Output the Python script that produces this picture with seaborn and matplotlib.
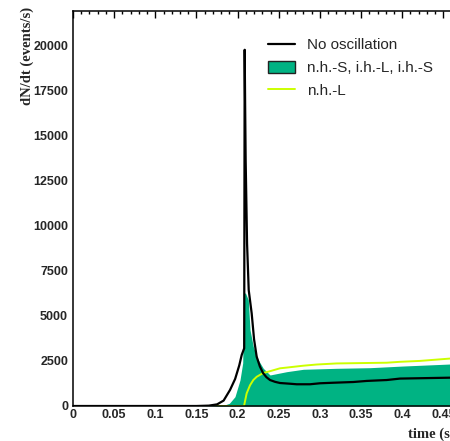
import matplotlib
matplotlib.use("Agg")
import matplotlib.pyplot as plt
import pandas as pd
import seaborn as sns
from matplotlib.lines import Line2D
from matplotlib.patches import Patch
from matplotlib.ticker import MultipleLocator

# Event rate without oscillation (time in s, rate in events/s)
no_osc_t = [0.0, 0.15, 0.165, 0.175, 0.183, 0.1908, 0.197, 0.202, 0.2050,
            0.2080, 0.2086, 0.2092, 0.2098, 0.2115, 0.2135, 0.2171, 0.2200,
            0.2232, 0.2270, 0.2309, 0.2350, 0.2394, 0.2455, 0.2515, 0.2637,
            0.2718, 0.2880, 0.3001, 0.3163, 0.3406, 0.3569, 0.3812, 0.3973,
            0.4216, 0.4581, 0.5]
no_osc_v = [0, 0, 20, 90, 300, 890, 1500, 2250, 2830,
            3200, 19750, 16500, 13600, 9000, 6430, 5140, 3700,
            2730, 2200, 1830, 1600, 1440, 1340, 1275, 1235,
            1205, 1205, 1260, 1290, 1330, 1390, 1440, 1520,
            1540, 1570, 1590]

# Event rate for n.h.-S, i.h.-L, i.h.-S
osc_t = [0.0, 0.15, 0.17, 0.18, 0.185, 0.19, 0.1968, 0.2029, 0.2062, 0.2069,
         0.2081, 0.2096, 0.2130, 0.2151, 0.2191, 0.2252, 0.2312, 0.2394,
         0.2597, 0.2798, 0.3204, 0.3609, 0.4013, 0.4581, 0.5]
osc_v = [0, 0, 15, 40, 70, 150, 515, 1441, 2383, 4213,
         6260, 6260, 5875, 4213, 3287, 2550, 2090, 1720,
         1903, 2035, 2090, 2124, 2217, 2328, 2380]

# Event rate for n.h.-L
nhl_t = [0.0, 0.2078, 0.2110, 0.2151, 0.2191, 0.2232, 0.2312, 0.2394, 0.2515,
         0.2597, 0.2798, 0.2961, 0.3204, 0.3812, 0.3973, 0.4216, 0.4581, 0.5]
nhl_v = [0, 0, 700, 1150, 1441, 1620, 1830, 1930, 2090,
         2130, 2234, 2300, 2360, 2400, 2450, 2500, 2630, 2720]

labels = ["No oscillation", "n.h.-S, i.h.-L, i.h.-S", "n.h.-L"]

green = "#00B383"
yellow = "#CCFF00"

sns.set_style("white")
plt.rcParams["font.family"] = ["Liberation Sans", "DejaVu Sans"]

W, H = 450, 441
fig = plt.figure(figsize=(W / 100, H / 100), dpi=100)
ax = fig.add_axes([73 / W, 35 / H, 411.5 / W, 395 / H])

osc = pd.DataFrame({"t": osc_t, "v": osc_v})
ax.fill_between(osc["t"], 0, osc["v"], color=green, lw=0, zorder=1)

nhl = pd.DataFrame({"t": nhl_t, "v": nhl_v})
sns.lineplot(data=nhl, x="t", y="v", ax=ax, color=yellow, lw=1.4,
             sort=False, estimator=None, zorder=2)

nos = pd.DataFrame({"t": no_osc_t, "v": no_osc_v})
sns.lineplot(data=nos, x="t", y="v", ax=ax, color="black", lw=1.6,
             sort=False, estimator=None, zorder=3)

ax.set_xlim(0, 0.5)
ax.set_ylim(0, 21900)
ax.set_xlabel("")
ax.set_ylabel("")

ax.xaxis.set_major_locator(MultipleLocator(0.05))
ax.xaxis.set_minor_locator(MultipleLocator(0.01))
ax.yaxis.set_major_locator(MultipleLocator(2500))
ax.yaxis.set_minor_locator(MultipleLocator(500))
ax.set_xticks([i * 0.05 for i in range(10)])
ax.set_xticklabels(["0", "0.05", "0.1", "0.15", "0.2", "0.25", "0.3", "0.35",
                    "0.4", "0.45"])
ax.set_yticks([i * 2500 for i in range(9)])
ax.set_yticklabels([str(i * 2500) for i in range(9)])

ax.tick_params(which="both", direction="in", top=True, right=True,
               width=1.0, color="black")
ax.tick_params(which="major", length=5)
ax.tick_params(which="minor", length=2.5)
ax.tick_params(axis="x", pad=2.5)
ax.tick_params(axis="y", pad=3.5)
for lab in ax.get_xticklabels() + ax.get_yticklabels():
    lab.set_fontweight("bold")
    lab.set_fontsize(9)
for s in ax.spines.values():
    s.set_linewidth(1.1)
    s.set_color("black")

serif = ["Liberation Serif", "DejaVu Serif"]
fig.text(27 / W, 1 - 7 / H, "dN/dt (events/s)", rotation=90, ha="center",
         va="top", family=serif, fontweight="bold", fontsize=10.5)
fig.text(455 / W, 1 - 437.5 / H, "time (s)", ha="right", va="baseline",
         family=serif, fontweight="bold", fontsize=10.5)

handles = [
    Line2D([], [], color="black", lw=1.6),
    Patch(facecolor=green, edgecolor="#222222", lw=1.0),
    Line2D([], [], color=yellow, lw=1.4),
]
ax.legend(handles, labels, loc="upper left",
          bbox_to_anchor=(268 / W, 1 - 38 / H), bbox_transform=fig.transFigure,
          frameon=False, fontsize=11, handlelength=1.75, handleheight=0.85,
          handletextpad=0.8, labelspacing=0.55, borderpad=0, borderaxespad=0)

fig.savefig("out.png", dpi=100)
